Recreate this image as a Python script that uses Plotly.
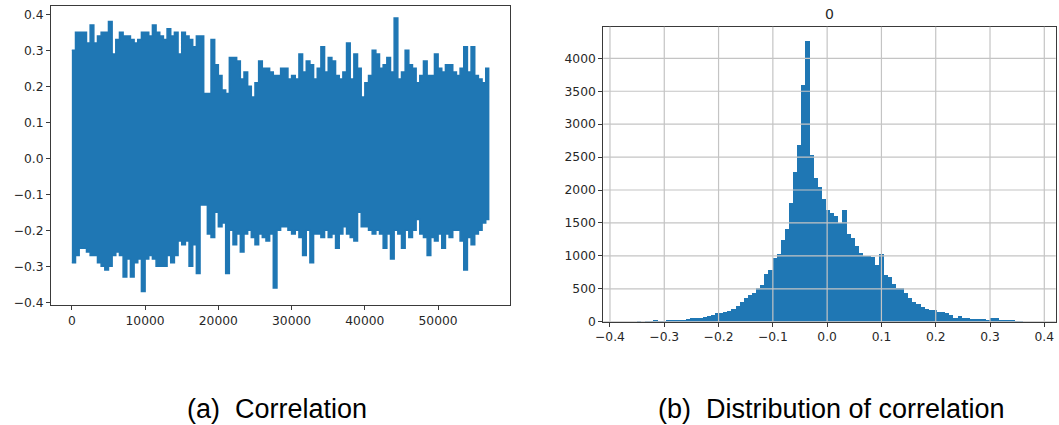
import numpy as np
import plotly.graph_objects as go

# ---------------- data: left panel (correlation series envelope, read every 500 samples) -------------
sample_index = list(range(0, 56501, 500)) + [56900]
upper_env = [
    0.30, 0.35, 0.35, 0.35, 0.32, 0.37, 0.32, 0.34, 0.35, 0.35,
    0.38, 0.29, 0.33, 0.35, 0.34, 0.34, 0.33, 0.32, 0.33, 0.35,
    0.35, 0.34, 0.37, 0.35, 0.34, 0.33, 0.36, 0.34, 0.35, 0.29,
    0.35, 0.34, 0.33, 0.31, 0.34, 0.34,
    0.18, 0.18, 0.33, 0.26, 0.23, 0.19, 0.18, 0.28, 0.28, 0.27, 0.22, 0.24, 0.20, 0.17,
    0.21, 0.27, 0.25, 0.25, 0.24, 0.23, 0.23, 0.25, 0.25, 0.22,
    0.23, 0.22, 0.29, 0.24, 0.27, 0.26, 0.22, 0.25, 0.31, 0.24,
    0.28, 0.27, 0.23, 0.22, 0.24, 0.32,
    0.22, 0.29, 0.25, 0.17, 0.21, 0.23, 0.30, 0.29, 0.25, 0.26,
    0.28, 0.24, 0.39, 0.22, 0.24, 0.30, 0.26, 0.25, 0.21, 0.23,
    0.27, 0.23, 0.23, 0.29, 0.25, 0.24, 0.26, 0.26, 0.24, 0.23,
    0.25, 0.31, 0.24, 0.31, 0.23, 0.22, 0.21, 0.25,
    0.15,
]
lower_env = [
    -0.29, -0.29, -0.27, -0.25, -0.25, -0.26, -0.27, -0.27, -0.29, -0.30,
    -0.31, -0.30, -0.27, -0.26, -0.27, -0.33, -0.28, -0.33, -0.29, -0.28,
    -0.37, -0.28, -0.27, -0.28, -0.30, -0.30, -0.30, -0.27, -0.29, -0.27,
    -0.23, -0.24, -0.23, -0.30, -0.24, -0.32,
    -0.13, -0.13, -0.21, -0.22, -0.15, -0.19, -0.18, -0.32, -0.20, -0.24, -0.21, -0.26, -0.21, -0.20,
    -0.22, -0.24, -0.21, -0.22, -0.23, -0.21, -0.36, -0.20, -0.19, -0.19,
    -0.20, -0.21, -0.20, -0.22, -0.27, -0.20, -0.29, -0.21, -0.21, -0.22,
    -0.20, -0.22, -0.21, -0.25, -0.21, -0.19,
    -0.21, -0.22, -0.23, -0.15, -0.19, -0.19, -0.20, -0.21, -0.20, -0.21,
    -0.25, -0.21, -0.28, -0.20, -0.21, -0.25, -0.20, -0.22, -0.20, -0.17,
    -0.21, -0.22, -0.27, -0.22, -0.23, -0.21, -0.25, -0.21, -0.22, -0.20,
    -0.20, -0.23, -0.31, -0.22, -0.24, -0.21, -0.20, -0.18,
    -0.17,
]

# ---------------- data: right panel (histogram, 100 bins) -------------
hist_range = (-0.373, 0.384)
hist_counts = [
    2, 1, 2, 3, 2, 4, 5, 25, 6, 8,
    22, 24, 25, 27, 30, 45, 50, 55, 62, 75,
    85, 100, 125, 135, 150, 165, 190, 240, 300, 355,
    400, 430, 505, 560, 725, 785, 960, 1035, 1235, 1415,
    1800, 2266, 2677, 3600, 4260, 2530, 2175, 2040, 1870, 1695,
    1655, 1605, 1505, 1690, 1330, 1270, 1150, 1045, 1000, 995,
    980, 862, 1029, 705, 680, 580, 510, 505, 431, 360,
    304, 265, 228, 195, 177, 175, 152, 150, 127, 95,
    60, 85, 61, 61, 46, 46, 46, 44, 25, 50,
    50, 25, 25, 24, 22, 5, 3, 2, 1, 1,
]

left_xticks = [0, 10000, 20000, 30000, 40000, 50000]
left_yticks = [-0.4, -0.3, -0.2, -0.1, 0.0, 0.1, 0.2, 0.3, 0.4]
right_xticks = [-0.4, -0.3, -0.2, -0.1, 0.0, 0.1, 0.2, 0.3, 0.4]
right_yticks = [0, 500, 1000, 1500, 2000, 2500, 3000, 3500, 4000]
right_title = "0"
caption_a = "(a)  Correlation"
caption_b = "(b)  Distribution of correlation"

def fmt(v):
    s = f"{abs(v):.1f}"
    return ("\u2212" + s) if v < 0 else s

BLUE = "#1f77b4"
W, H = 1059, 425

fig = go.Figure()

# left: dense correlation series drawn as its envelope
fig.add_trace(go.Scatter(
    x=sample_index + sample_index[::-1],
    y=upper_env + lower_env[::-1],
    mode="lines", fill="toself", fillcolor=BLUE,
    line=dict(color=BLUE, width=1.5, shape="hv"),
    xaxis="x", yaxis="y", hoverinfo="skip", showlegend=False,
))

# right: histogram
edges = np.linspace(hist_range[0], hist_range[1], len(hist_counts) + 1)
centers = (edges[:-1] + edges[1:]) / 2
bw = edges[1] - edges[0]
fig.add_trace(go.Bar(
    x=centers, y=hist_counts, width=bw,
    marker=dict(color=BLUE, line=dict(width=0)),
    xaxis="x2", yaxis="y2", showlegend=False,
))

tickfont = dict(family="DejaVu Sans", size=12.3, color="#262626")
axis_common = dict(showline=True, mirror=True, linecolor="#3a3a3a", linewidth=1,
                   ticks="outside", ticklen=4, tickwidth=1, tickcolor="#3a3a3a",
                   tickfont=tickfont, zeroline=False, showgrid=False, automargin=False)

def px_x(p):
    return p / W

def px_y(p):
    return 1 - p / H

fig.update_layout(
    width=W, height=H,
    margin=dict(l=0, r=0, t=0, b=0, autoexpand=False),
    paper_bgcolor="white", plot_bgcolor="white",
    bargap=0,
    xaxis=dict(domain=[px_x(51), px_x(509.5)], range=[-2845, 59745],
               tickvals=left_xticks, ticktext=[str(v) for v in left_xticks],
               anchor="y", **axis_common),
    yaxis=dict(domain=[px_y(305), px_y(6)], range=[-0.4075, 0.423],
               tickvals=left_yticks, ticktext=[fmt(v) for v in left_yticks],
               anchor="x", **axis_common),
    xaxis2=dict(domain=[px_x(603.3), px_x(1055.7)], range=[-0.4123, 0.421],
                tickvals=right_xticks, ticktext=[fmt(v) for v in right_xticks],
                anchor="y2", **axis_common),
    yaxis2=dict(domain=[px_y(321.7), px_y(26.7)], range=[0, 4480],
                tickvals=right_yticks, ticktext=[str(v) for v in right_yticks],
                anchor="x2", **axis_common),
)

# grid lines of the histogram drawn above the bars (as in pandas hist)
shapes = []
for v in right_xticks:
    shapes.append(dict(type="line", xref="x2", yref="y2 domain", x0=v, x1=v, y0=0, y1=1,
                       line=dict(color="#c4c4c4", width=1.2), layer="above"))
for v in right_yticks:
    shapes.append(dict(type="line", xref="x2 domain", yref="y2", x0=0, x1=1, y0=v, y1=v,
                       line=dict(color="#c4c4c4", width=1.2), layer="above"))
fig.update_layout(shapes=shapes)

fig.add_annotation(text=right_title, xref="x2 domain", yref="paper", x=0.5, y=px_y(14),
                   showarrow=False, font=dict(family="DejaVu Sans", size=14, color="#262626"),
                   xanchor="center", yanchor="middle")
fig.add_annotation(text=caption_a, xref="paper", yref="paper", x=px_x(276.5), y=px_y(409),
                   showarrow=False, font=dict(family="Liberation Sans", size=27, color="black"),
                   xanchor="center", yanchor="middle")
fig.add_annotation(text=caption_b, xref="paper", yref="paper", x=px_x(831.5), y=px_y(409),
                   showarrow=False, font=dict(family="Liberation Sans", size=27, color="black"),
                   xanchor="center", yanchor="middle")

fig.write_html("out.html",
               config={"displayModeBar": False, "staticPlot": True},
               post_script="document.body.style.margin='0';document.body.style.overflow='hidden';")
